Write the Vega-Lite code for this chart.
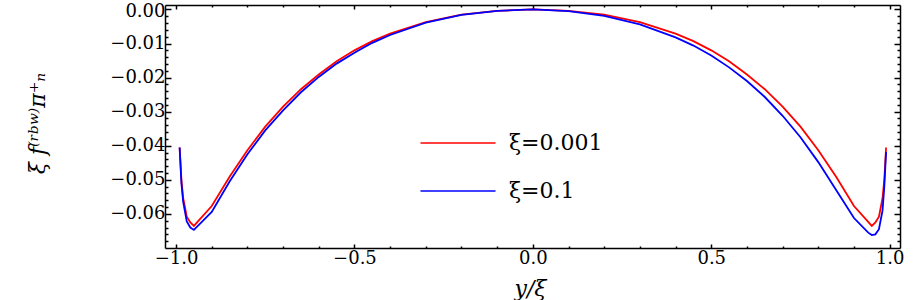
{
  "$schema": "https://vega.github.io/schema/vega-lite/v6.json",
  "width": 735,
  "height": 243,
  "autosize": "none",
  "padding": {"left": 165, "top": 5, "right": 13, "bottom": 52},
  "background": "white",
  "config": {"view": {"stroke": null}},
  "data": {"values": [
    {"x": -0.99, "v": -0.0405, "s": "ξ=0.001"},
    {"x": -0.985, "v": -0.050, "s": "ξ=0.001"},
    {"x": -0.98, "v": -0.0554, "s": "ξ=0.001"},
    {"x": -0.97, "v": -0.0608, "s": "ξ=0.001"},
    {"x": -0.96, "v": -0.0625, "s": "ξ=0.001"},
    {"x": -0.95, "v": -0.0635, "s": "ξ=0.001"},
    {"x": -0.9, "v": -0.0577, "s": "ξ=0.001"},
    {"x": -0.85, "v": -0.0491, "s": "ξ=0.001"},
    {"x": -0.8, "v": -0.0413, "s": "ξ=0.001"},
    {"x": -0.75, "v": -0.0344, "s": "ξ=0.001"},
    {"x": -0.7, "v": -0.0285, "s": "ξ=0.001"},
    {"x": -0.65, "v": -0.0234, "s": "ξ=0.001"},
    {"x": -0.6, "v": -0.0191, "s": "ξ=0.001"},
    {"x": -0.55, "v": -0.0152, "s": "ξ=0.001"},
    {"x": -0.5, "v": -0.0120, "s": "ξ=0.001"},
    {"x": -0.45, "v": -0.0093, "s": "ξ=0.001"},
    {"x": -0.4, "v": -0.0071, "s": "ξ=0.001"},
    {"x": -0.3, "v": -0.0037, "s": "ξ=0.001"},
    {"x": -0.2, "v": -0.0015, "s": "ξ=0.001"},
    {"x": -0.1, "v": -0.0004, "s": "ξ=0.001"},
    {"x": 0, "v": 0, "s": "ξ=0.001"},
    {"x": 0.1, "v": -0.0004, "s": "ξ=0.001"},
    {"x": 0.2, "v": -0.0015, "s": "ξ=0.001"},
    {"x": 0.3, "v": -0.0037, "s": "ξ=0.001"},
    {"x": 0.4, "v": -0.0071, "s": "ξ=0.001"},
    {"x": 0.45, "v": -0.0093, "s": "ξ=0.001"},
    {"x": 0.5, "v": -0.0120, "s": "ξ=0.001"},
    {"x": 0.55, "v": -0.0152, "s": "ξ=0.001"},
    {"x": 0.6, "v": -0.0191, "s": "ξ=0.001"},
    {"x": 0.65, "v": -0.0234, "s": "ξ=0.001"},
    {"x": 0.7, "v": -0.0285, "s": "ξ=0.001"},
    {"x": 0.75, "v": -0.0344, "s": "ξ=0.001"},
    {"x": 0.8, "v": -0.0413, "s": "ξ=0.001"},
    {"x": 0.85, "v": -0.0491, "s": "ξ=0.001"},
    {"x": 0.9, "v": -0.0577, "s": "ξ=0.001"},
    {"x": 0.95, "v": -0.0635, "s": "ξ=0.001"},
    {"x": 0.96, "v": -0.0625, "s": "ξ=0.001"},
    {"x": 0.97, "v": -0.0608, "s": "ξ=0.001"},
    {"x": 0.98, "v": -0.0554, "s": "ξ=0.001"},
    {"x": 0.985, "v": -0.050, "s": "ξ=0.001"},
    {"x": 0.99, "v": -0.0405, "s": "ξ=0.001"},
    {"x": -0.99, "v": -0.0405, "s": "ξ=0.1"},
    {"x": -0.985, "v": -0.051, "s": "ξ=0.1"},
    {"x": -0.98, "v": -0.0565, "s": "ξ=0.1"},
    {"x": -0.97, "v": -0.0622, "s": "ξ=0.1"},
    {"x": -0.96, "v": -0.0640, "s": "ξ=0.1"},
    {"x": -0.95, "v": -0.0647, "s": "ξ=0.1"},
    {"x": -0.9, "v": -0.0594, "s": "ξ=0.1"},
    {"x": -0.85, "v": -0.0505, "s": "ξ=0.1"},
    {"x": -0.8, "v": -0.0425, "s": "ξ=0.1"},
    {"x": -0.75, "v": -0.0355, "s": "ξ=0.1"},
    {"x": -0.7, "v": -0.0296, "s": "ξ=0.1"},
    {"x": -0.65, "v": -0.0243, "s": "ξ=0.1"},
    {"x": -0.6, "v": -0.0198, "s": "ξ=0.1"},
    {"x": -0.55, "v": -0.0159, "s": "ξ=0.1"},
    {"x": -0.5, "v": -0.0127, "s": "ξ=0.1"},
    {"x": -0.45, "v": -0.0098, "s": "ξ=0.1"},
    {"x": -0.4, "v": -0.0075, "s": "ξ=0.1"},
    {"x": -0.3, "v": -0.0039, "s": "ξ=0.1"},
    {"x": -0.2, "v": -0.0016, "s": "ξ=0.1"},
    {"x": -0.1, "v": -0.0004, "s": "ξ=0.1"},
    {"x": 0, "v": 0, "s": "ξ=0.1"},
    {"x": 0.1, "v": -0.0005, "s": "ξ=0.1"},
    {"x": 0.2, "v": -0.0019, "s": "ξ=0.1"},
    {"x": 0.3, "v": -0.0044, "s": "ξ=0.1"},
    {"x": 0.4, "v": -0.0082, "s": "ξ=0.1"},
    {"x": 0.45, "v": -0.0106, "s": "ξ=0.1"},
    {"x": 0.5, "v": -0.0135, "s": "ξ=0.1"},
    {"x": 0.55, "v": -0.0170, "s": "ξ=0.1"},
    {"x": 0.6, "v": -0.0210, "s": "ξ=0.1"},
    {"x": 0.65, "v": -0.0257, "s": "ξ=0.1"},
    {"x": 0.7, "v": -0.0312, "s": "ξ=0.1"},
    {"x": 0.75, "v": -0.0375, "s": "ξ=0.1"},
    {"x": 0.8, "v": -0.0448, "s": "ξ=0.1"},
    {"x": 0.85, "v": -0.0530, "s": "ξ=0.1"},
    {"x": 0.9, "v": -0.0612, "s": "ξ=0.1"},
    {"x": 0.94, "v": -0.0655, "s": "ξ=0.1"},
    {"x": 0.95, "v": -0.0662, "s": "ξ=0.1"},
    {"x": 0.96, "v": -0.0660, "s": "ξ=0.1"},
    {"x": 0.97, "v": -0.0645, "s": "ξ=0.1"},
    {"x": 0.98, "v": -0.0590, "s": "ξ=0.1"},
    {"x": 0.985, "v": -0.052, "s": "ξ=0.1"},
    {"x": 0.99, "v": -0.0418, "s": "ξ=0.1"}
  ]},
  "layer": [
    {
      "mark": {"type": "line", "strokeWidth": 1.8, "clip": true},
      "encoding": {
        "x": {"field": "x", "type": "quantitative",
          "scale": {"domain": [-1.031, 1.029], "nice": false, "zero": false},
          "axis": {
            "orient": "bottom",
            "values": [-1, -0.9, -0.8, -0.7, -0.6, -0.5, -0.4, -0.3, -0.2, -0.1, 0, 0.1, 0.2, 0.3, 0.4, 0.5, 0.6, 0.7, 0.8, 0.9, 1],
            "format": ".1f",
            "labelExpr": "abs(datum.value*2 - round(datum.value*2)) < 0.000001 ? datum.label : ''",
            "tickSize": {"condition": {"test": "abs(datum.value*2 - round(datum.value*2)) < 0.000001", "value": -4}, "value": -2},
            "tickWidth": 1.5, "tickColor": "black",
            "domainColor": "black", "domainWidth": 1.5,
            "grid": false,
            "labelFont": "DejaVu Serif", "labelFontSize": 18, "labelColor": "black",
            "labelPadding": 5, "labelFlush": false, "labelOverlap": false,
            "title": "y/ξ",
            "titleFont": "DejaVu Serif", "titleFontStyle": "italic", "titleFontWeight": "normal",
            "titleFontSize": 22, "titleColor": "black",
            "titleX": 365, "titleY": 47, "titleBaseline": "alphabetic", "titleAlign": "center"
          }
        },
        "y": {"field": "v", "type": "quantitative",
          "scale": {"domain": [-0.0700, 0.0013], "nice": false, "zero": false},
          "axis": {
            "orient": "left",
            "values": [-0.068, -0.066, -0.064, -0.062, -0.06, -0.058, -0.056, -0.054, -0.052, -0.05, -0.048, -0.046, -0.044, -0.042, -0.04, -0.038, -0.036, -0.034, -0.032, -0.03, -0.028, -0.026, -0.024, -0.022, -0.02, -0.018, -0.016, -0.014, -0.012, -0.01, -0.008, -0.006, -0.004, -0.002, 0],
            "format": ".2f",
            "labelExpr": "abs(datum.value*100 - round(datum.value*100)) < 0.000001 ? datum.label : ''",
            "labelOffset": {"condition": {"test": "datum.value == 0", "value": 2}, "value": 0},
            "tickSize": {"condition": {"test": "abs(datum.value*100 - round(datum.value*100)) < 0.000001", "value": -6}, "value": -3},
            "tickWidth": 1.5, "tickColor": "black",
            "domainColor": "black", "domainWidth": 1.5,
            "grid": false,
            "labelFont": "DejaVu Serif", "labelFontSize": 18, "labelColor": "black",
            "labelPadding": 6, "labelFlush": false, "labelOverlap": false,
            "title": "ξ f⁽ʳᵇʷ⁾π⁺ₙ",
            "titleFont": "DejaVu Serif", "titleFontStyle": "italic", "titleFontWeight": "normal",
            "titleFontSize": 22, "titleColor": "black",
            "titleAngle": -90, "titleX": -128, "titleY": 118, "titleAlign": "center", "titleBaseline": "middle"
          }
        },
        "color": {"field": "s", "type": "nominal",
          "scale": {"domain": ["ξ=0.001", "ξ=0.1"], "range": ["#ff0000", "#0000ff"]},
          "legend": {
            "orient": "none", "legendX": 282, "legendY": 127, "title": null,
            "symbolType": "M-5,0H5", "symbolSize": 225, "symbolStrokeWidth": 1.5,
            "labelFont": "DejaVu Serif", "labelFontSize": 22, "labelColor": "black",
            "labelOffset": 40, "rowPadding": 26, "padding": 0
          }
        }
      }
    },
    {
      "mark": {"type": "line", "strokeOpacity": 0},
      "encoding": {
        "x": {"field": "x", "type": "quantitative",
          "axis": {
            "orient": "top",
            "values": [-1, -0.9, -0.8, -0.7, -0.6, -0.5, -0.4, -0.3, -0.2, -0.1, 0, 0.1, 0.2, 0.3, 0.4, 0.5, 0.6, 0.7, 0.8, 0.9, 1],
            "labels": false,
            "tickSize": {"condition": {"test": "abs(datum.value*2 - round(datum.value*2)) < 0.000001", "value": -4}, "value": -2},
            "tickWidth": 1.5, "tickColor": "black",
            "domainColor": "black", "domainWidth": 1.5, "grid": false, "title": null
          }
        },
        "y": {"field": "v", "type": "quantitative",
          "axis": {
            "orient": "right",
            "values": [-0.068, -0.066, -0.064, -0.062, -0.06, -0.058, -0.056, -0.054, -0.052, -0.05, -0.048, -0.046, -0.044, -0.042, -0.04, -0.038, -0.036, -0.034, -0.032, -0.03, -0.028, -0.026, -0.024, -0.022, -0.02, -0.018, -0.016, -0.014, -0.012, -0.01, -0.008, -0.006, -0.004, -0.002, 0],
            "labels": false,
            "tickSize": {"condition": {"test": "abs(datum.value*100 - round(datum.value*100)) < 0.000001", "value": -6}, "value": -3},
            "tickWidth": 1.5, "tickColor": "black",
            "domainColor": "black", "domainWidth": 1.5, "grid": false, "title": null
          }
        },
        "detail": {"field": "s", "type": "nominal"}
      }
    }
  ],
  "resolve": {"axis": {"x": "independent", "y": "independent"}}
}
